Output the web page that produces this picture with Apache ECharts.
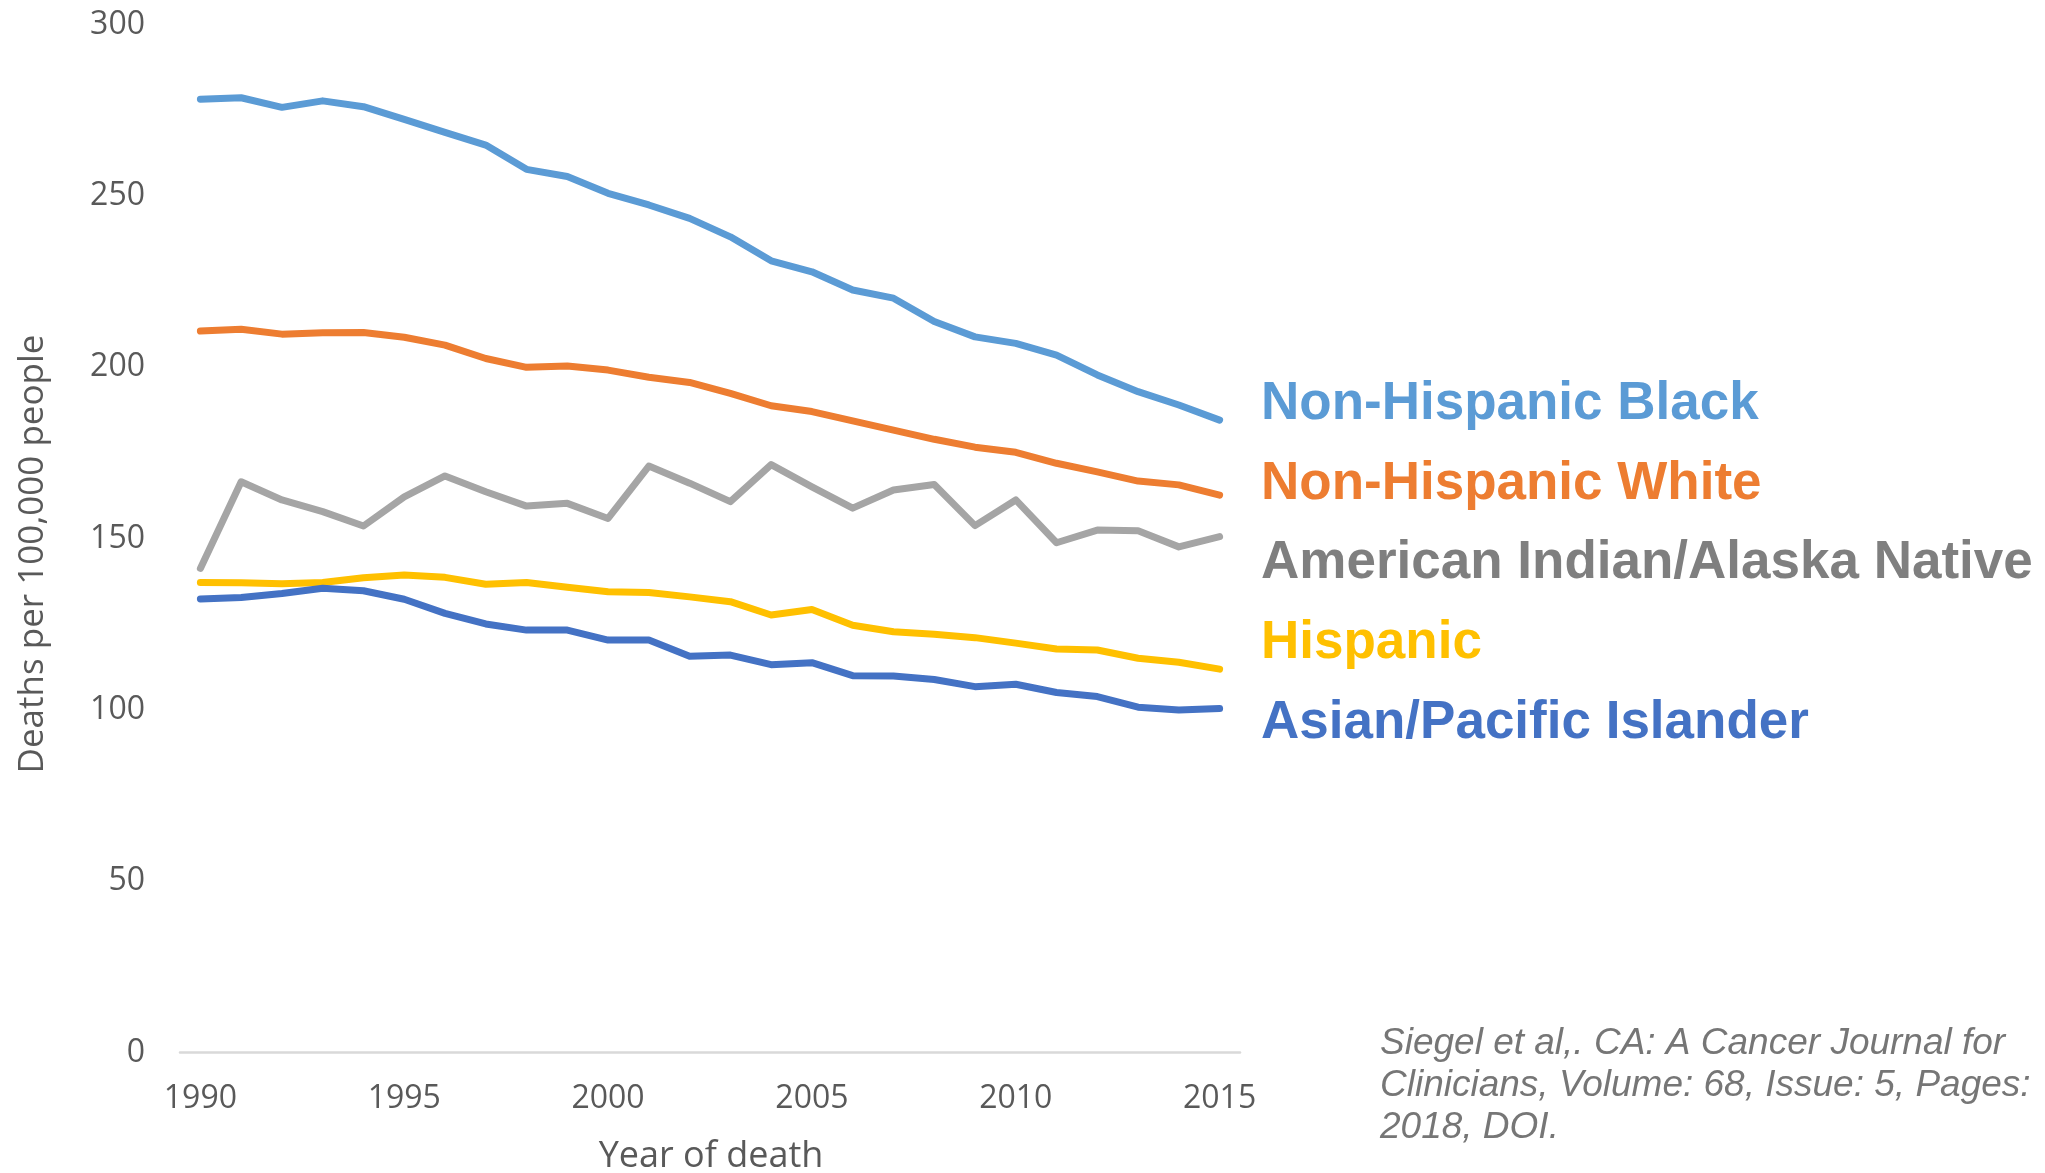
<!DOCTYPE html>
<html>
<head>
<meta charset="utf-8">
<script src="https://cdn.jsdelivr.net/npm/echarts@6/dist/echarts.min.js"></script>
<style>
html,body{margin:0;padding:0;background:#fff;}
#chart{width:2045px;height:1173px;}
</style>
</head>
<body>
<div id="chart"></div>
<script>
const years = ['1990','1991','1992','1993','1994','1995','1996','1997','1998','1999','2000','2001','2002','2003','2004','2005','2006','2007','2008','2009','2010','2011','2012','2013','2014','2015'];
const seriesNames = ['Non-Hispanic Black','Non-Hispanic White','American Indian/Alaska Native','Hispanic','Asian/Pacific Islander'];
const nhBlack = [278.3,278.7,275.9,277.8,276.1,272.4,268.6,264.9,257.8,255.7,250.8,247.4,243.5,238.1,231.1,227.9,222.6,220.2,213.4,208.9,207.0,203.6,197.8,192.9,189.0,184.6];
const nhWhite = [210.6,211.1,209.7,210.1,210.2,208.8,206.5,202.6,200.0,200.4,199.2,197.1,195.6,192.4,188.8,187.1,184.4,181.7,179.0,176.7,175.2,172.0,169.5,166.8,165.7,162.7];
const aian = [141.3,166.6,161.3,157.9,153.7,162.2,168.3,163.7,159.5,160.3,155.9,171.2,166.2,160.8,171.6,165.1,158.9,164.2,165.8,153.8,161.3,148.8,152.5,152.3,147.6,150.6];
const hispanic = [137.2,137.1,136.8,137.2,138.6,139.4,138.7,136.7,137.2,135.8,134.5,134.3,133.0,131.6,127.7,129.3,124.7,122.8,122.1,121.1,119.5,117.8,117.5,115.1,113.9,111.9];
const asianPI = [132.4,132.8,134.0,135.5,134.8,132.3,128.2,125.1,123.3,123.3,120.4,120.4,115.7,116.0,113.2,113.8,110.0,109.9,108.9,106.8,107.5,105.1,103.9,100.8,100.0,100.4];
const yTicks = [0,50,100,150,200,250,300];
const xTitle = 'Year of death';
const yTitle = 'Deaths per 100,000 people';
const citation = ['Siegel et al,. CA: A Cancer Journal for','Clinicians, Volume: 68, Issue: 5, Pages:','2018, DOI.'];

const lineColors = ['#5B9BD5','#ED7D31','#A5A5A5','#FFC000','#4472C4'];
const labelColors = ['#5B9BD5','#ED7D31','#7F7F7F','#FFC000','#4472C4'];
const allData = [nhBlack, nhWhite, aian, hispanic, asianPI];

const chart = echarts.init(document.getElementById('chart'), null, {renderer:'canvas'});

const graphics = [];
seriesNames.forEach((n, i) => {
  graphics.push({
    type:'text', left:1261, top: 400 + i*79.6 - 22,
    style:{ text:n, fill:labelColors[i], font:'bold 53px "Liberation Sans", Arial, sans-serif', verticalAlign:'top' }
  });
});
citation.forEach((t, i) => {
  graphics.push({
    type:'text', x:1380, y:1044 + i*42,
    style:{ text:t, fill:'#767676', font:'italic 37px "Liberation Sans", Arial, sans-serif', verticalAlign:'middle', align:'left' }
  });
});
graphics.push({
  type:'text', x:33, y:554, rotation:Math.PI/2,
  style:{ text:yTitle, fill:'#595959', font:'35px "Open Sans", sans-serif', align:'center', verticalAlign:'middle' }
});
graphics.push({
  type:'text', x:711, y:1157,
  style:{ text:xTitle, fill:'#595959', font:'36px "Open Sans", sans-serif', align:'center', verticalAlign:'middle' }
});

chart.setOption({
  animation:false,
  backgroundColor:'#ffffff',
  grid:{ left:180, right:805, top:24.8, bottom:120.5, containLabel:false },
  xAxis:{
    type:'category', data:years, boundaryGap:true,
    axisLine:{ show:true, lineStyle:{ color:'#D9D9D9', width:2.5 } },
    axisTick:{ show:false },
    axisLabel:{ interval:4, margin:30, color:'#595959', fontSize:32, fontFamily:'"Open Sans", sans-serif' },
    splitLine:{ show:false }
  },
  yAxis:{
    type:'value', min:yTicks[0], max:yTicks[yTicks.length-1], interval:yTicks[1]-yTicks[0],
    axisLine:{ show:false }, axisTick:{ show:false },
    axisLabel:{ margin:35, color:'#595959', fontSize:32, fontFamily:'"Open Sans", sans-serif' },
    splitLine:{ show:false }
  },
  series: allData.map((d, i) => ({
    name: seriesNames[i], type:'line', data:d, symbol:'none', smooth:false,
    lineStyle:{ color:lineColors[i], width:7, cap:'round', join:'round' },
    itemStyle:{ color:lineColors[i] },
    z: 2 + i
  })),
  graphic: graphics
});
</script>
</body>
</html>
